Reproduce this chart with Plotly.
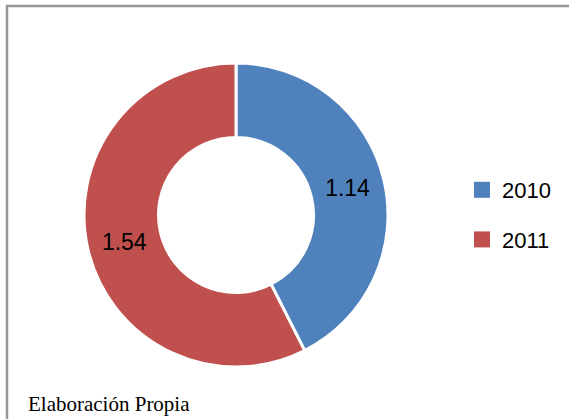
import plotly.graph_objects as go

years = ["2010", "2011"]
values = [1.14, 1.54]
colors = ["#4F81BD", "#C0504D"]
footer = "Elaboración Propia"

W, H = 569, 419
cx, cy, r = 236, 215, 152

fig = go.Figure()
fig.add_trace(go.Pie(
    labels=years,
    values=values,
    hole=0.51,
    sort=False,
    direction="clockwise",
    rotation=0,
    marker=dict(colors=colors, line=dict(color="white", width=3)),
    texttemplate="%{value:.2f}",
    textposition="inside",
    insidetextorientation="horizontal",
    textfont=dict(family="Liberation Sans, Arial", size=23, color="black"),
    domain=dict(x=[(cx - r) / W, (cx + r) / W], y=[(H - cy - r) / H, (H - cy + r) / H]),
    hoverinfo="label+value",
    showlegend=False,
))

# legend entries (one group per year so the gap between them can be set)
for name, col in zip(years, colors):
    fig.add_trace(go.Scatter(
        x=[None], y=[None], mode="markers", name=name, legendgroup=name,
        marker=dict(symbol="square", size=16, color=col),
        hoverinfo="skip",
    ))

fig.update_layout(
    width=W, height=H,
    margin=dict(l=0, r=0, t=0, b=0),
    paper_bgcolor="white",
    plot_bgcolor="rgba(0,0,0,0)",
    xaxis=dict(visible=False),
    yaxis=dict(visible=False),
    showlegend=True,
    legend=dict(
        x=462 / W, y=(H - 215) / H, xanchor="left", yanchor="middle",
        font=dict(family="Liberation Sans, Arial", size=22, color="black"),
        bgcolor="rgba(0,0,0,0)",
        tracegroupgap=18,
        itemsizing="trace",
    ),
    shapes=[dict(type="rect", xref="paper", yref="paper",
                 x0=7 / W, x1=1.02, y0=-0.02, y1=1 - 6 / H,
                 line=dict(color="#959595", width=2.5))],
    annotations=[dict(text=footer, xref="paper", yref="paper",
                      x=26 / W, y=(H - 404) / H, xanchor="left", yanchor="middle",
                      showarrow=False,
                      font=dict(family="Liberation Serif, Times New Roman", size=21, color="black"))],
)

fig.write_html("out.html", post_script="document.body.style.margin='0';",
               config={"displayModeBar": False})
